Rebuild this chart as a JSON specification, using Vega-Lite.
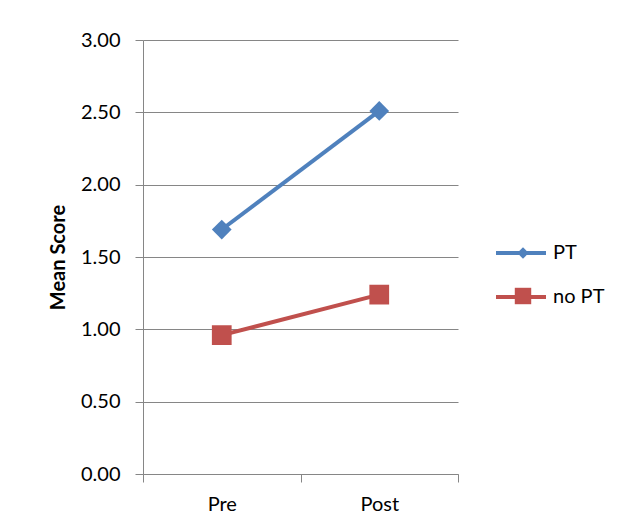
{
  "$schema": "https://vega.github.io/schema/vega-lite/v6.json",
  "width": 315,
  "height": 434,
  "autosize": "none",
  "padding": {"left": 143, "top": 40, "right": 163, "bottom": 55},
  "background": "white",
  "config": {"view": {"stroke": null}, "font": "Lato"},
  "data": {"values": [
    {"time": "Pre", "group": "PT", "score": 1.69},
    {"time": "Post", "group": "PT", "score": 2.51},
    {"time": "Pre", "group": "no PT", "score": 0.96},
    {"time": "Post", "group": "no PT", "score": 1.24}
  ]},
  "encoding": {
    "x": {"field": "time", "type": "ordinal", "sort": ["Pre", "Post"],
      "scale": {"paddingInner": 0, "paddingOuter": 0},
      "axis": {"title": null, "labelAngle": 0, "tickBand": "extent", "grid": false,
        "domainColor": "#868686", "tickColor": "#868686", "tickSize": 8,
        "labelFontSize": 20, "labelColor": "#000000", "labelPadding": 12, "labelFont": "Lato"}},
    "y": {"field": "score", "type": "quantitative",
      "scale": {"domain": [0, 3], "nice": false, "zero": true},
      "axis": {"values": [0, 0.5, 1, 1.5, 2, 2.5, 3], "format": ".2f", "title": "Mean Score",
        "titleFontSize": 20, "titleFontWeight": "bold", "titleColor": "#000000", "titlePadding": 12,
        "labelFontSize": 20, "labelColor": "#000000", "labelPadding": 15,
        "grid": true, "gridColor": "#868686", "domainColor": "#868686", "tickColor": "#868686", "tickSize": 8}}
  },
  "layer": [
    {"mark": {"type": "line", "strokeWidth": 4},
      "encoding": {"stroke": {"field": "group", "type": "nominal", "sort": ["PT", "no PT"],
        "scale": {"range": ["#4F81BD", "#C0504D"]},
        "legend": {"title": null, "orient": "none", "legendX": 351, "legendY": 186, "padding": 0,
          "symbolType": "stroke", "symbolSize": 2500, "symbolStrokeWidth": 4,
          "labelFontSize": 20, "labelColor": "#000000", "labelOffset": 5, "rowPadding": 7, "labelFont": "Lato"}}}},
    {"mark": {"type": "point", "filled": true, "opacity": 1, "size": 390},
      "encoding": {
        "fill": {"field": "group", "type": "nominal",
          "scale": {"domain": ["PT", "no PT"], "range": ["#4F81BD", "#C0504D"]},
          "legend": {"title": null, "orient": "none", "legendX": 370, "legendY": 203, "padding": 0,
            "symbolSize": 2500, "symbolOpacity": 1, "symbolStrokeWidth": 0,
            "labelFontSize": 20, "labelExpr": "''", "labelOffset": 5, "rowPadding": 23,
            "encode": {"symbols": {"update": {"size": {"signal": "datum.label === 'PT' ? 130 : 270"}}}}}},
        "shape": {"field": "group", "type": "nominal",
          "scale": {"domain": ["PT", "no PT"], "range": ["diamond", "square"]}}
      }}
  ]
}
